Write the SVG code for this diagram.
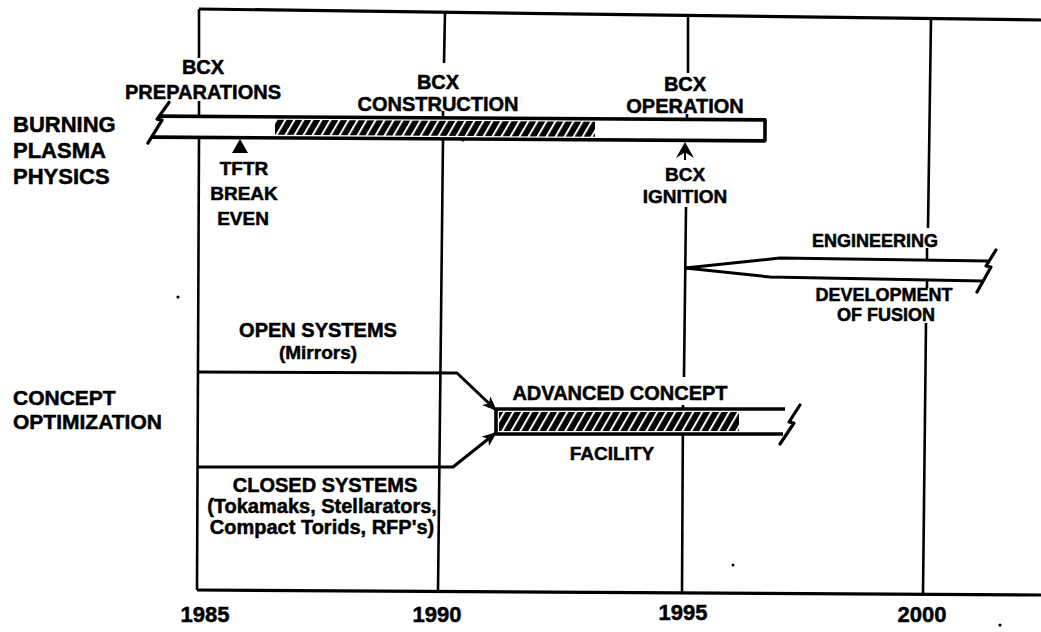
<svg xmlns="http://www.w3.org/2000/svg" width="1041" height="632" viewBox="0 0 1041 632">
<style>
text{font-family:"Liberation Sans",Arial,sans-serif;font-weight:bold;fill:#000;stroke:#000;stroke-width:0.5}
.c{text-anchor:middle}
.f20{font-size:20px}
.f19{font-size:19px}
.f18{font-size:18px}
.f21{font-size:21px}
.f22{font-size:22px}
.grid{stroke:#000;stroke-width:2.6;fill:none}
.frame{stroke:#000;stroke-width:3.2;fill:none}
.bar{stroke:#000;stroke-width:3.6;fill:none;stroke-linejoin:round}
.brk{stroke:#000;stroke-width:3.2;fill:none;stroke-linecap:round;stroke-linejoin:round}
.conn{stroke:#000;stroke-width:3;fill:none;stroke-linejoin:round}
</style>
<defs>
<pattern id="hatch" patternUnits="userSpaceOnUse" width="9" height="30" patternTransform="skewX(-30)">
<rect width="9" height="30" fill="#000"/>
<rect x="3" width="2.3" height="30" fill="#fff"/>
</pattern>
<marker id="arr" markerUnits="userSpaceOnUse" markerWidth="16" markerHeight="12" refX="15" refY="6" orient="auto">
<path d="M0,0 L15,6 L0,12 L4,6 Z" fill="#000"/>
</marker>
</defs>
<rect width="1041" height="632" fill="#fff"/>

<g id="frame">
<line class="frame" x1="199" y1="9" x2="1041" y2="20"/>
<line class="frame" x1="197" y1="590" x2="1041" y2="595"/>
<line class="grid" x1="199" y1="9" x2="199" y2="58"/>
<line class="grid" x1="199" y1="101" x2="199" y2="117"/>
<line class="grid" x1="199" y1="139" x2="197" y2="590"/>
<line class="grid" x1="445" y1="12" x2="444" y2="63"/>
<line class="grid" x1="443" y1="111" x2="443" y2="119"/>
<line class="grid" x1="443" y1="139" x2="438" y2="592"/>
<line class="grid" x1="688" y1="15" x2="688" y2="73"/>
<line class="grid" x1="687" y1="114" x2="687" y2="121"/>
<line class="grid" x1="686" y1="207" x2="684" y2="377"/>
<line class="grid" x1="683" y1="405" x2="682" y2="594"/>
<line class="grid" x1="931" y1="18" x2="928" y2="228"/>
<line class="grid" x1="927" y1="248" x2="927" y2="259"/>
<line class="grid" x1="927" y1="281" x2="927" y2="288"/>
<line class="grid" x1="926" y1="323" x2="923" y2="595"/>
</g>

<g id="burning-plasma-bar" transform="rotate(0.35 460 129)">
<rect x="158" y="118" width="607" height="21" fill="#fff"/>
<rect x="275" y="121" width="320" height="15" fill="url(#hatch)"/>
<path class="bar" d="M158,118 H765 V139 H152"/>
<path class="brk" d="M169,104 L157,121 L162,122 L148,145"/>
</g>

<g id="tftr-marker">
<polygon points="240,139 248,153 232,153" fill="#000"/>
</g>
<g id="bcx-ignition-marker">
<path d="M685,142 L694,158 L686,153 L686,160 L684,160 L684,153 L676,158 Z" fill="#000"/>
</g>

<g id="engineering">
<path d="M685,268 L780,258 L988,261 L983,281 L770,277 Z" fill="#fff"/>
<path class="conn" d="M685,268 L780,258 L988,261"/>
<path class="conn" d="M685,268 L770,277 L983,281"/>
<path class="brk" d="M996,250 L986,266 L991,267 L977,292"/>
</g>

<g id="advanced-concept-bar">
<rect x="496" y="409" width="289" height="25" fill="#fff"/>
<rect x="499" y="412" width="240" height="19" fill="url(#hatch)"/>
<path class="bar" d="M785,409 H496 V434 H783"/>
<path class="brk" d="M800,405 L789,422 L794,423 L780,444"/>
</g>

<g id="connectors">
<polyline class="conn" points="197,372 457,373 497,411" marker-end="url(#arr)"/>
<polyline class="conn" points="197,467 453,467 497,432" marker-end="url(#arr)"/>
</g>

<g id="labels-left">
<text class="f22" x="13" y="132">BURNING</text>
<text class="f22" x="13" y="158">PLASMA</text>
<text class="f22" x="13" y="184">PHYSICS</text>
<text class="f21" x="13" y="405">CONCEPT</text>
<text class="f21" x="13" y="429">OPTIMIZATION</text>
</g>

<g id="bcx-preparations">
<text class="c f20" x="203" y="74">BCX</text>
<text class="c f20" x="203" y="99">PREPARATIONS</text>
</g>
<g id="bcx-construction">
<text class="c f20" x="438" y="89">BCX</text>
<text class="c f20" x="438" y="111">CONSTRUCTION</text>
</g>
<g id="bcx-operation">
<text class="c f20" x="685" y="91">BCX</text>
<text class="c f20" x="685" y="113">OPERATION</text>
</g>
<g id="tftr-break-even">
<text class="c f19" x="244" y="175">TFTR</text>
<text class="c f19" x="244" y="200">BREAK</text>
<text class="c f19" x="243" y="225">EVEN</text>
</g>
<g id="bcx-ignition">
<text class="c f19" x="685" y="181">BCX</text>
<text class="c f19" x="685" y="203">IGNITION</text>
</g>
<g id="engineering-labels">
<text class="c f18" x="875" y="247">ENGINEERING</text>
<text class="c f18" x="884" y="301">DEVELOPMENT</text>
<text class="c f18" x="886" y="321">OF FUSION</text>
</g>
<g id="open-systems">
<text class="c f20" x="318" y="337">OPEN SYSTEMS</text>
<text class="c f19" x="318" y="359">(Mirrors)</text>
</g>
<g id="closed-systems">
<text class="c f20" x="325" y="492">CLOSED SYSTEMS</text>
<text class="c f20" x="322" y="513">(Tokamaks, Stellarators,</text>
<text class="c f20" x="322" y="534">Compact Torids, RFP's)</text>
</g>
<g id="advanced-concept">
<text class="c f20" x="620" y="400">ADVANCED CONCEPT</text>
<text class="c f19" x="612" y="460">FACILITY</text>
</g>
<g id="years">
<text class="c f22" x="205" y="622">1985</text>
<text class="c f22" x="437" y="622">1990</text>
<text class="c f22" x="683" y="620">1995</text>
<text class="c f22" x="922" y="622">2000</text>
</g>
<g id="specks" fill="#000">
<circle cx="178" cy="297" r="1.6"/>
<circle cx="463" cy="140" r="1.5"/>
<circle cx="733" cy="565" r="1.5"/>
<circle cx="1000" cy="625" r="1.6"/>
</g>
</svg>
